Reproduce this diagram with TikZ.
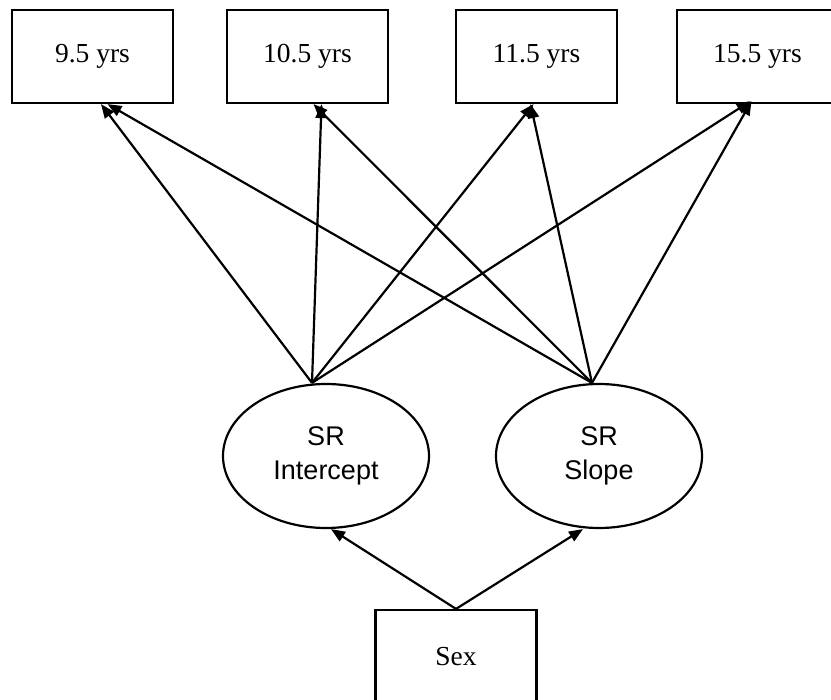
\documentclass[tikz,border=0pt]{standalone}
\usepackage{fontspec}
\setmainfont{Liberation Serif}
\setsansfont{Liberation Sans}
\usetikzlibrary{arrows.meta,shapes.geometric}
\begin{document}
\begin{tikzpicture}[x=1pt,y=-1pt,
  obs/.style={draw, line width=2.2pt, minimum width=161pt, minimum height=93pt,
    inner sep=0pt, font=\fontsize{27.5}{33}\selectfont},
  latent/.style={ellipse, draw, line width=2.2pt, minimum width=206pt,
    minimum height=144pt, inner sep=0pt, align=center,
    font=\sffamily\fontsize{27}{34}\selectfont},
  link/.style={line width=2.2pt, -{Triangle[length=14pt,width=11pt]}}
]
\useasboundingbox (0,0) rectangle (831,700);

% measurement occasions
\node[obs] (b1) at (92.5,56.5)  {9.5 yrs};
\node[obs] (b2) at (307.5,56.5) {10.5 yrs};
\node[obs] (b3) at (536.5,56.5) {11.5 yrs};
\node[obs] (b4) at (757.5,56.5) {15.5 yrs};

% growth factors
\node[latent] (I) at (326,456) {SR\\Intercept};
\node[latent] (S) at (599,456) {SR\\Slope};

% covariate
\node[obs] (X) at (456,656.5) {Sex};

% connector ends
\coordinate (iU) at ([xshift=-14pt]I.north);
\coordinate (sU) at ([xshift=-7pt]S.north);
\coordinate (iD) at ([xshift=5pt]I.south);
\coordinate (sD) at ([xshift=-16pt]S.south);
\coordinate (xU) at (X.north);

\coordinate (t1i) at ([xshift=8.5pt]b1.south);
\coordinate (t1s) at ([xshift=15pt]b1.south);
\coordinate (t2i) at ([xshift=14pt]b2.south);
\coordinate (t2s) at ([xshift=6pt]b2.south);
\coordinate (t3i) at ([xshift=-3pt]b3.south);
\coordinate (t3s) at ([xshift=-6pt]b3.south);
\coordinate (t4i) at ([xshift=-7pt,yshift=3pt]b4.south);
\coordinate (t4s) at ([xshift=-6pt,yshift=3pt]b4.south);

% intercept loadings
\draw[link] (iU) -- (t1i);
\draw[link] (iU) -- (t2i);
\draw[link] (iU) -- (t3i);
\draw[link] (iU) -- (t4i);

% slope loadings
\draw[link] (sU) -- (t1s);
\draw[link] (sU) -- (t2s);
\draw[link] (sU) -- (t3s);
\draw[link] (sU) -- (t4s);

% covariate effects
\draw[link] (xU) -- (iD);
\draw[link] (xU) -- (sD);
\end{tikzpicture}
\end{document}
